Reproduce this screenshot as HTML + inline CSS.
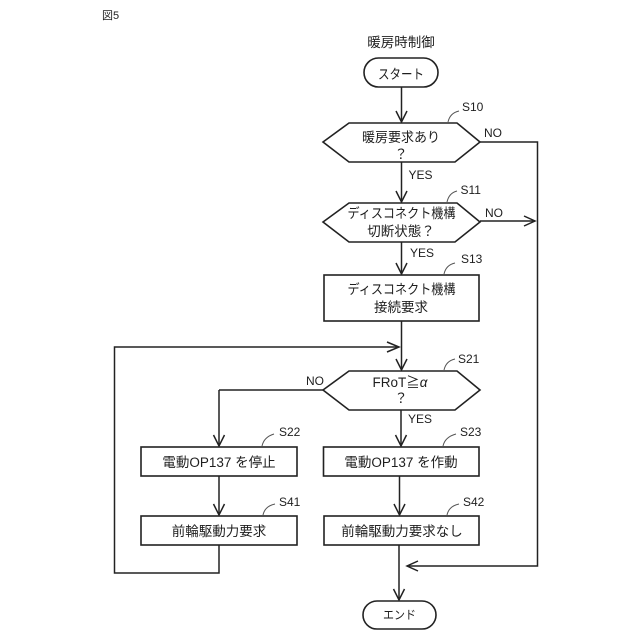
<!DOCTYPE html>
<html><head><meta charset="utf-8"><style>
html,body{margin:0;padding:0;background:#fff}
svg{display:block}
text{font-family:"Liberation Sans","Noto Sans CJK JP",sans-serif;fill:#1e1e1e;font-size:13.5px}
.c{text-anchor:middle}
.s{font-size:12px}
.l{font-size:12px}
.b{fill:#fff;stroke:#222;stroke-width:1.6}
.w{fill:none;stroke:#222;stroke-width:1.5}
.h{fill:none;stroke:#222;stroke-width:1.5}
.t{fill:none;stroke:#555;stroke-width:1}
</style></head><body>
<svg width="640" height="640" viewBox="0 0 640 640" xmlns="http://www.w3.org/2000/svg">
<rect width="640" height="640" fill="#fff"/>
<text x="102" y="19" style="font-size:11px">図5</text>
<text class="c" x="401" y="47">暖房時制御</text>

<!-- connectors -->
<path class="w" d="M401.5 87V122M401.5 162V202M401.5 242V274M401.5 321V370M401 410V446M219 390V446M219 476V515M399.5 476V515M399 545V600M219 545V573H114.500V347H399M480 142H537.500V566H407M480 221H535M323 390H219"/>
<!-- arrowheads -->
<path class="h" d="M396 111L401.500 122L407 111M396 191L401.500 202L407 191M396 263L401.500 274L407 263M396 359L401.500 370L407 359M395.500 435L401 446L406.500 435M213.500 435L219 446L224.500 435M213.500 504L219 515L224.500 504M394 504L399.500 515L405 504M393.500 589L399 600L404.500 589M387 342L399 347L387 352M524 216L535 221L524 226M418 561L407 566L418 571"/>

<!-- nodes -->
<rect class="b" x="364" y="58" width="74" height="29" rx="14.500"/>
<path class="b" d="M323 142L349 123H457L480 142L455 162H349Z"/>
<path class="b" d="M323 222L349 203H457L480 222L455 242H349Z"/>
<rect class="b" x="324" y="275" width="155" height="46"/>
<path class="b" d="M323 390L349 371H457L480 390L455 410H349Z"/>
<rect class="b" x="141" y="447" width="156" height="29"/>
<rect class="b" x="323.500" y="447" width="155.500" height="29"/>
<rect class="b" x="141" y="516" width="156" height="29"/>
<rect class="b" x="324" y="516" width="155" height="29"/>
<rect class="b" x="363" y="601" width="73" height="28" rx="14"/>

<!-- node text -->
<text class="c" x="401" y="79" textLength="46" lengthAdjust="spacingAndGlyphs">スタート</text>
<text class="c" x="401" y="142" textLength="78" lengthAdjust="spacingAndGlyphs">暖房要求あり</text>
<text class="c" x="401" y="159">？</text>
<text class="c" x="401.500" y="218" textLength="108" lengthAdjust="spacingAndGlyphs">ディスコネクト機構</text>
<text class="c" x="401" y="236">切断状態？</text>
<text class="c" x="401.500" y="294" textLength="108" lengthAdjust="spacingAndGlyphs">ディスコネクト機構</text>
<text class="c" x="401" y="312">接続要求</text>
<text class="c" x="400" y="387">FRoT≧<tspan font-style="italic">α</tspan></text>
<text class="c" x="401" y="403">？</text>
<text class="c" x="219" y="467">電動OP137 を停止</text>
<text class="c" x="401" y="467">電動OP137 を作動</text>
<text class="c" x="219" y="536">前輪駆動力要求</text>
<text class="c" x="402" y="536">前輪駆動力要求なし</text>
<text class="c" x="399.500" y="619" style="font-size:12px" textLength="33" lengthAdjust="spacingAndGlyphs">エンド</text>

<!-- branch labels -->
<text class="l" x="484" y="137">NO</text>
<text class="l" x="485" y="217">NO</text>
<text class="l" x="408.500" y="179">YES</text>
<text class="l" x="410" y="257">YES</text>
<text class="l" x="306" y="385">NO</text>
<text class="l" x="408" y="423">YES</text>

<!-- step labels -->
<text class="s" x="462" y="111">S10</text>
<text class="s" x="460.500" y="194">S11</text>
<text class="s" x="461" y="263">S13</text>
<text class="s" x="458" y="363">S21</text>
<text class="s" x="279" y="436">S22</text>
<text class="s" x="460" y="436">S23</text>
<text class="s" x="279" y="506">S41</text>
<text class="s" x="463" y="506">S42</text>
<path class="t" d="M448 122Q450 113 459 111M447 202Q449 193 457 191M444 274Q446 265 455 263M444 370Q446 361 455 359M262 446Q264 437 274 434M443 446Q445 437 456 434M263 515Q265 506 275 504M447 515Q449 506 459 504"/>
</svg>
</body></html>
